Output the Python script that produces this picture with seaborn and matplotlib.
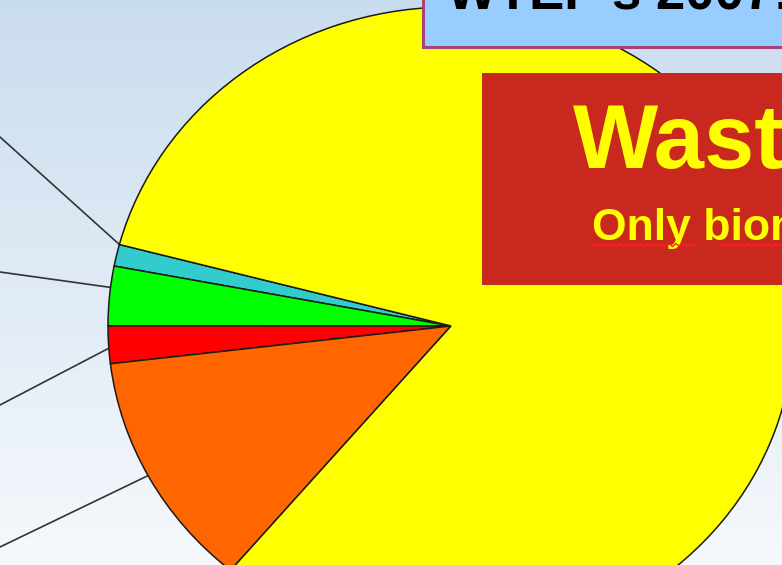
import numpy as np
import matplotlib
matplotlib.use("Agg")
import matplotlib.pyplot as plt
from matplotlib.patches import Rectangle
import seaborn as sns

sns.set_theme(style="white")
plt.rcParams['font.family'] = ['Liberation Sans', 'DejaVu Sans']

# slice shares in %, counter-clockwise starting at the upper-left edge
categories = ["Cat. 1", "Cat. 2", "Cat. 3", "Cat. 4", "Cat. 5"]
shares = [1.1, 3.0, 1.9, 12.0, 82.0]
colors = ["#33cccc", "#00ff00", "#ff0000", "#ff6600", "#ffff00"]
# where the leader line meets each wedge (fraction of the wedge's angle)
leader_pos = [0.0, 0.36, 0.59, 0.49]
# far end of the leader lines, pixel row at the left border
leader_rows = [137, 272, 405, 547]

W, H = 782, 565
squash = 0.93          # the slide pie is a little flattened vertically

fig = plt.figure(figsize=(W / 100, H / 100), dpi=100)

# slide background: light blue fading to white
bg = fig.add_axes([0, 0, 1, 1], zorder=0)
top = np.array([0.79, 0.865, 0.935])
bot = np.array([0.965, 0.975, 0.99])
t = np.linspace(0, 1, 256)[:, None]
grad = (top * (1 - t) + bot * t)[:, None, :]
bg.imshow(grad, extent=[0, W, 0, H], aspect="auto")
bg.set_xlim(0, W)
bg.set_ylim(0, H)
bg.axis("off")

# pie axes: y units scaled so that the circle comes out as the flat ellipse
pa = fig.add_axes([0, 0, 1, 1], zorder=1)
pa.patch.set_alpha(0)
cx, cy, r = 451, (H - 326) / squash, 343
wedges, _ = pa.pie(shares, colors=colors, startangle=165.2, counterclock=True,
                   center=(cx, cy), radius=r,
                   wedgeprops=dict(edgecolor="#1a1a1a", linewidth=1.1))
for w in wedges:
    w.set_zorder(2)
for w, f, row in zip(wedges[:4], leader_pos, leader_rows):
    ang = np.deg2rad(w.theta1 + f * (w.theta2 - w.theta1))
    px, py = cx + r * np.cos(ang), cy + r * np.sin(ang)
    pa.plot([0, px], [(H - row) / squash, py], color="#333333", lw=1.2, zorder=1)
pa.set_xlim(0, W)
pa.set_ylim(0, H / squash)
pa.set_aspect("auto")
pa.axis("off")

# overlay: title box and red call-out
ov = fig.add_axes([0, 0, 1, 1], zorder=2)
ov.patch.set_alpha(0)
ov.add_patch(Rectangle((423, H - 47), 420, 80, facecolor="#99ccff",
                       edgecolor="#a8437a", lw=2.2, zorder=3))
ov.text(447, H - 10, "WTEP's 2007:", fontsize=38, fontweight="bold",
        color="black", va="baseline", ha="left", zorder=4)

ov.add_patch(Rectangle((482, H - 285), 340, 212, facecolor="#c8281e",
                       edgecolor="none", zorder=3))
ov.text(573, H - 168, "Waste", fontsize=65, fontweight="bold",
        color="#ffff00", va="baseline", ha="left", zorder=4)
ov.text(592, H - 240, "Only biomass", fontsize=32, fontweight="bold",
        color="#ffff00", va="baseline", ha="left", zorder=4)
# spell-check squiggles under the small line
for x0, x1 in [(592, 698), (720, 790)]:
    xs = np.arange(x0, x1, 3.5)
    ys = H - 245 + np.where(np.arange(len(xs)) % 2 == 0, 1.5, -1.5)
    ov.plot(xs, ys, color="#ff2020", lw=1.0, zorder=5)
ov.set_xlim(0, W)
ov.set_ylim(0, H)
ov.axis("off")

fig.savefig("out.png", dpi=100)
